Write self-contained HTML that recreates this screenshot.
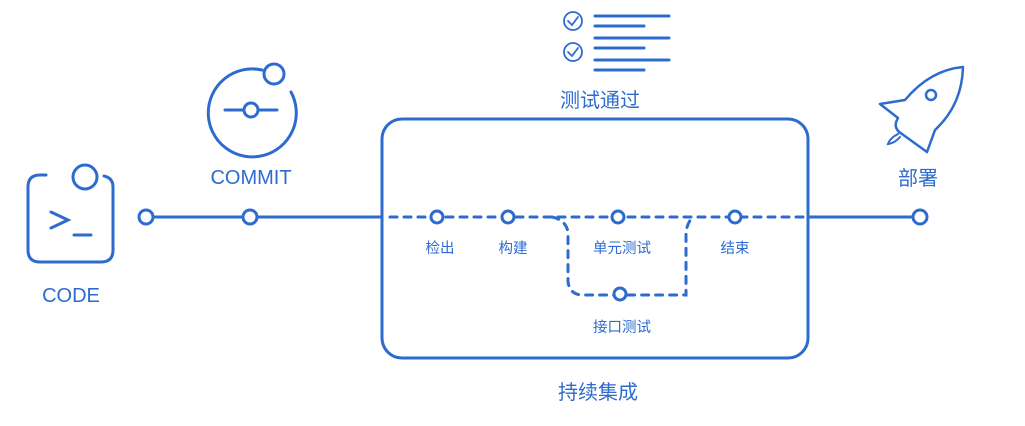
<!DOCTYPE html>
<html><head><meta charset="utf-8"><style>
html,body{margin:0;padding:0;background:#fff;}
svg{display:block;}
text{font-family:"Liberation Sans","Noto Sans CJK SC",sans-serif;fill:#2e6bcf;}
</style></head><body>
<svg width="1025" height="426" viewBox="0 0 1025 426" xmlns="http://www.w3.org/2000/svg">
<g fill="none" stroke="#2e6bcf" stroke-width="3" stroke-linecap="round">
  <path d="M46 175 H40 Q28 175 28 187 V250 Q28 262 40 262 H101 Q113 262 113 250 V187 Q113 178 104 176"/>
  <circle cx="85" cy="177" r="12"/>
  <path d="M51 212 L68 220 L51 228"/>
  <path d="M74 235 H91"/>
  <path d="M291 92 A44 44 0 1 1 262 70"/>
  <circle cx="274" cy="74" r="10"/>
  <path d="M225 110 H244 M258 110 H277"/>
  <circle cx="251" cy="110" r="7"/>
  <path d="M153 217 H243 M257 217 H382"/>
  <circle cx="146" cy="217" r="7"/>
  <circle cx="250" cy="217" r="7"/>
  <rect x="382" y="119" width="426" height="239" rx="20"/>
  <path d="M808 217 H913"/>
  <circle cx="920" cy="217" r="7"/>
  <path d="M390 217 H808" stroke-dasharray="7 7"/>
  <path d="M552 217 Q566 220 568 232 V282 Q570 295 583 295 H686 V232 Q688 220 694 217" stroke-dasharray="7 7"/>
  <circle cx="437" cy="217" r="6" fill="#fff"/>
  <circle cx="508" cy="217" r="6" fill="#fff"/>
  <circle cx="618" cy="217" r="6" fill="#fff"/>
  <circle cx="735" cy="217" r="6" fill="#fff"/>
  <circle cx="620" cy="294" r="6" fill="#fff"/>
  <path d="M595 16 H669 M595 26 H644 M595 38 H669 M595 48 H644 M595 60 H669 M595 70 H644"/>
  <g stroke-width="1.8"><circle cx="573" cy="21" r="9"/><circle cx="573" cy="52" r="9"/>
  <path d="M568 21 L572 25 L578 17 M568 52 L572 56 L578 48"/></g>
  <path d="M963 67 Q930 70 905 100 L880 104 L898 118 Q892 128 902 134 L927 152 L935 130 Q962 105 963 67 Z" stroke-width="2.5" stroke-linejoin="round"/>
  <circle cx="931" cy="95" r="5" stroke-width="2.5"/>
  <path d="M898 134 Q890 138 888 144 Q895 143 900 137" stroke-width="2"/>
</g>
<g font-size="14.5" text-anchor="middle">
  <text x="440" y="253">检出</text>
  <text x="513" y="253">构建</text>
  <text x="622" y="253">单元测试</text>
  <text x="735" y="253">结束</text>
  <text x="622" y="332">接口测试</text>
</g>
<g font-size="20" text-anchor="middle">
  <text x="71" y="302">CODE</text>
  <text x="251" y="184">COMMIT</text>
  <text x="600" y="107">测试通过</text>
  <text x="598" y="399">持续集成</text>
  <text x="918" y="185">部署</text>
</g>
</svg>
</body></html>
